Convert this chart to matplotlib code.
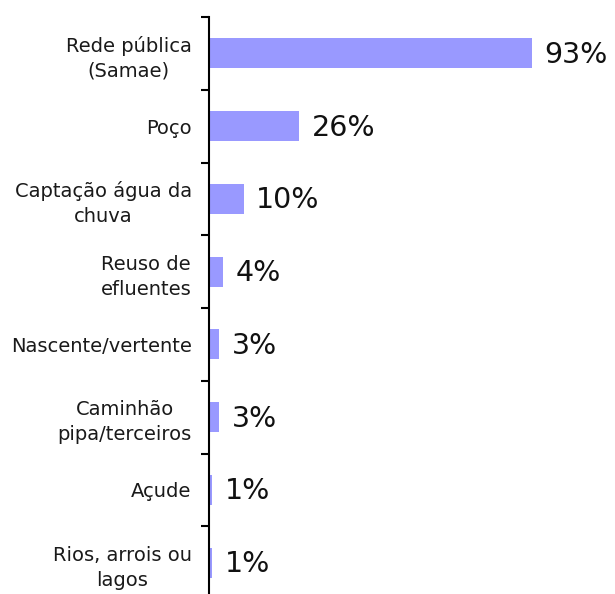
import matplotlib
matplotlib.use("Agg")
import matplotlib.pyplot as plt
import numpy as np

categories = ["Rede pública\n(Samae)", "Poço", "Captação água da\nchuva", "Reuso de\nefluentes",
              "Nascente/vertente", "Caminhão\npipa/terceiros", "Açude", "Rios, arrois ou\nlagos"]
values = [93, 26, 10, 4, 3, 3, 1, 1]
value_labels = ["93%", "26%", "10%", "4%", "3%", "3%", "1%", "1%"]

W, H = 615, 594
fig = plt.figure(figsize=(W / 100, H / 100), dpi=100)
ax = fig.add_axes([209 / W, -5 / H, 347 / W, 582 / H])

n = len(categories)
y = np.arange(n)
ax.barh(y, values, height=0.41, color="#9999ff", edgecolor="none")
ax.set_ylim(n - 0.5, -0.5)
ax.set_xlim(0, 100)

for yi, v, lab in zip(y, values, value_labels):
    ax.text(v + 3.6, yi + 0.02, lab, va="center", ha="left", fontsize=20.5, color="#111111")

for s in ["top", "right", "bottom"]:
    ax.spines[s].set_visible(False)
ax.spines["left"].set_linewidth(1.5)
ax.set_xticks([])
ax.set_yticks(np.arange(n + 1) - 0.5)
ax.set_yticklabels([])
ax.tick_params(axis="y", length=6, width=1.5, direction="out")
ax.set_yticks(y, minor=True)
ax.set_yticklabels(categories, minor=True, fontsize=14, multialignment="center",
                   color="#1a1a1a", linespacing=1.4)
ax.tick_params(axis="y", which="minor", length=0, pad=12.5)

fig.savefig("out.png", dpi=100)
